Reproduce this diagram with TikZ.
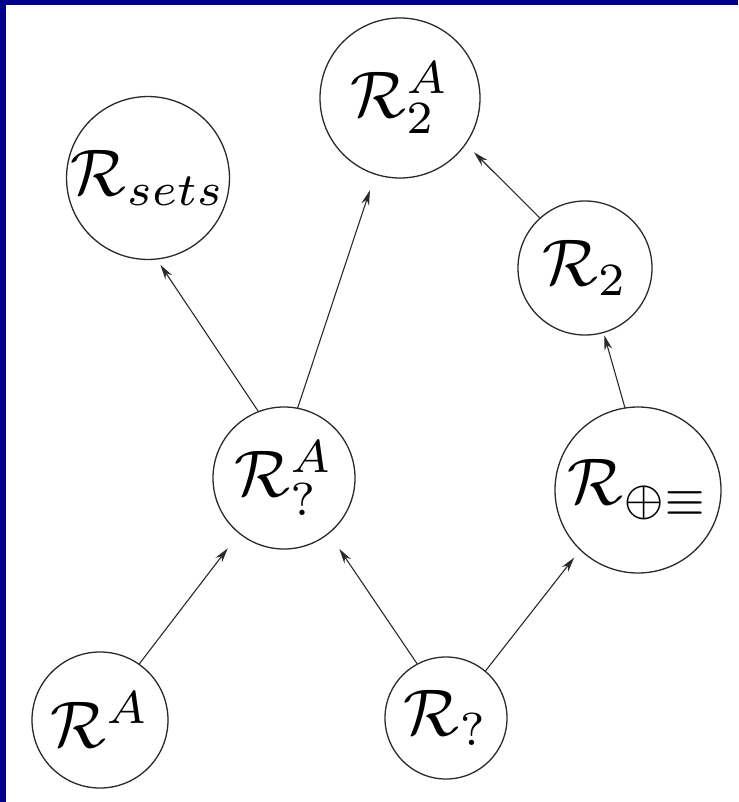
\documentclass[tikz,border=0pt]{standalone}
\usepackage{graphicx}
\usetikzlibrary{arrows.meta, positioning}
\definecolor{frameBl}{HTML}{00008C}
\definecolor{inkBd}{HTML}{2A2A2A}
\newcommand{\relR}{\mathcal{R}}
\newcommand{\lbl}[1]{\scalebox{6.6}{$#1$}}

\begin{document}
\begin{tikzpicture}[
  x=1pt, y=-1pt,
  font=\fontsize{10}{12}\selectfont,
  >={Stealth[length=15pt, width=8pt, inset=5pt]},
  rel/.style={circle, draw=inkBd, line width=1.3pt, inner sep=0pt,
              outer sep=0pt, minimum size=#1},
  flow/.style={->, line width=1.1pt, draw=inkBd},
]

% ---------------------------- the page and its frame ----------------------
\useasboundingbox (0,0) rectangle (738,802);
\fill[white]    (0,0) rectangle (738,802);
\fill[frameBl]  (0,0) rectangle (738,5);
\fill[frameBl]  (0,0) rectangle (6,802);

% ---------------------------- top row -------------------------------------
\node[rel=160pt] (rtwoA) at (400,98)  {\lbl{\relR_2^A}};
\node[rel=160pt] (rsets) at (148,178) {\lbl{\relR_{sets}}};
\node[rel=134pt] (rtwo)  at (585,268) {\lbl{\relR_2}};

% ---------------------------- middle row ----------------------------------
\node[rel=142pt] (rqA)   at (284,478) {\lbl{\relR_?^A}};
\node[rel=166pt] (rpe)   at (638,490) {\lbl{\relR_{\oplus\equiv}}};

% ---------------------------- bottom row ----------------------------------
\node[rel=136pt] (rA)    at (100,720) {\lbl{\relR^A}};
\node[rel=122pt] (rq)    at (446,718) {\lbl{\relR_?}};

% ---------------------------- flow ----------------------------------------
\draw[flow, shorten >=19pt]  (rA.55)    -- (rqA.231);
\draw[flow, shorten >=19pt]  (rq.118)   -- (rqA.309);
\draw[flow, shorten >=10pt]  (rq.50)    -- (rpe.226);
\draw[flow, shorten >=3pt]   (rpe.99)   -- (rtwo.286);
\draw[flow, shorten >=12pt]  (rtwo.132) -- (rtwoA.325);

% the two arrows out of R?A leave it near the top
\draw[flow, shorten >=7pt]   (rqA.111)  -- (rsets.276);
\draw[flow, shorten >=17pt]  (rqA.79)   -- (rtwoA.252);

\end{tikzpicture}
\end{document}
